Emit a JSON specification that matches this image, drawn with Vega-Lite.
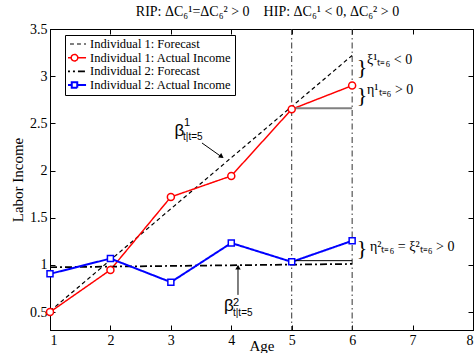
{
  "$schema": "https://vega.github.io/schema/vega-lite/v6.json",
  "width": 423,
  "height": 301,
  "autosize": {"type": "none"},
  "padding": {"left": 50, "top": 29, "right": 1, "bottom": 23},
  "background": "white",
  "title": {"text": "RIP: ΔC₆¹=ΔC₆² > 0\u00a0\u00a0\u00a0\u00a0HIP: ΔC₆¹ < 0, ΔC₆² > 0", "font": "Liberation Serif", "fontSize": 14, "fontWeight": "normal", "color": "black", "offset": 3, "dx": 6},
  "config": {
    "view": {"stroke": "black", "strokeWidth": 1},
    "axis": {"domainColor": "black", "tickColor": "black", "labelColor": "black", "titleColor": "black", "labelFont": "Liberation Serif", "titleFont": "Liberation Serif", "labelFontSize": 14, "titleFontSize": 15, "titleFontWeight": "normal", "grid": false, "tickSize": -5, "labelPadding": 8},
    "legend": {"orient": "none", "legendX": 15, "legendY": 6, "strokeColor": "black", "fillColor": "white", "padding": 3, "labelFont": "Liberation Serif", "labelFontSize": 12.5, "labelColor": "black", "symbolSize": 121, "labelOffset": 9}
  },
  "datasets": {
    "lines": [
      {"s": "Individual 1: Forecast", "x": 1, "y": 0.51},
      {"s": "Individual 1: Forecast", "x": 6, "y": 3.22},
      {"s": "Individual 1: Actual Income", "x": 1, "y": 0.5},
      {"s": "Individual 1: Actual Income", "x": 2, "y": 0.947},
      {"s": "Individual 1: Actual Income", "x": 3, "y": 1.72},
      {"s": "Individual 1: Actual Income", "x": 4, "y": 1.943},
      {"s": "Individual 1: Actual Income", "x": 5, "y": 2.65},
      {"s": "Individual 1: Actual Income", "x": 6, "y": 2.9},
      {"s": "Individual 2: Forecast", "x": 1, "y": 0.975},
      {"s": "Individual 2: Forecast", "x": 6, "y": 1.01},
      {"s": "Individual 2: Actual Income", "x": 1, "y": 0.905},
      {"s": "Individual 2: Actual Income", "x": 2, "y": 1.067},
      {"s": "Individual 2: Actual Income", "x": 3, "y": 0.817},
      {"s": "Individual 2: Actual Income", "x": 4, "y": 1.232},
      {"s": "Individual 2: Actual Income", "x": 5, "y": 1.032},
      {"s": "Individual 2: Actual Income", "x": 6, "y": 1.255}
    ]
  },
  "layer": [
    {
      "data": {"name": "lines"},
      "mark": {"type": "point", "opacity": 0},
      "encoding": {
        "x": {"field": "x", "type": "quantitative", "scale": {"domain": [1, 8], "nice": false, "zero": false}, "axis": {"orient": "bottom", "values": [1, 2, 3, 4, 5, 6, 7, 8], "title": "Age", "titlePadding": -9}},
        "y": {"field": "y", "type": "quantitative", "scale": {"domain": [0.31, 3.5], "nice": false, "zero": false}, "axis": {"orient": "left", "values": [0.5, 1, 1.5, 2, 2.5, 3, 3.5], "format": "~g", "title": "Labor Income", "titlePadding": 4}}
      }
    },
    {
      "data": {"name": "lines"},
      "mark": {"type": "point", "opacity": 0},
      "encoding": {
        "x": {"field": "x", "type": "quantitative", "scale": {"domain": [1, 8], "nice": false, "zero": false}, "axis": {"orient": "top", "values": [1, 2, 3, 4, 5, 6, 7, 8], "labels": false, "title": null}},
        "y": {"field": "y", "type": "quantitative", "scale": {"domain": [0.31, 3.5], "nice": false, "zero": false}, "axis": {"orient": "right", "values": [0.5, 1, 1.5, 2, 2.5, 3, 3.5], "labels": false, "title": null}}
      }
    },
    {
      "data": {"values": [{"x": 5}, {"x": 6}]},
      "mark": {"type": "rule", "color": "#333333", "strokeWidth": 1, "strokeDash": [6, 3, 1.5, 3]},
      "encoding": {
        "x": {"field": "x", "type": "quantitative", "scale": {"domain": [1, 8], "nice": false, "zero": false}, "axis": null}
      }
    },
    {
      "data": {"name": "lines"},
      "mark": {"type": "line"},
      "encoding": {
        "x": {"field": "x", "type": "quantitative", "scale": {"domain": [1, 8], "nice": false, "zero": false}, "axis": null},
        "y": {"field": "y", "type": "quantitative", "scale": {"domain": [0.31, 3.5], "nice": false, "zero": false}, "axis": null},
        "color": {
          "field": "s", "type": "nominal",
          "scale": {"domain": ["Individual 1: Forecast", "Individual 1: Actual Income", "Individual 2: Forecast", "Individual 2: Actual Income"], "range": ["black", "red", "black", "blue"]},
          "legend": {
            "title": null,
            "rowPadding": 0.7,
            "clipHeight": 12,
            "labelExpr": "datum.label + '\u00a0\u00a0\u00a0\u00a0\u00a0'",
            "encode": {"symbols": {"update": {
              "shape": {"signal": "datum.value === 'Individual 1: Actual Income' ? 'M-2.1,0H-0.6M0.6,0H2.1M-0.6,0A0.6,0.6 0 1,1 0.6,0A0.6,0.6 0 1,1 -0.6,0' : datum.value === 'Individual 2: Actual Income' ? 'M-2.1,0H-0.5M0.5,0H2.1M-0.5,-0.5H0.5V0.5H-0.5Z' : 'M-2.1,0H2.1'"},
              "strokeWidth": {"signal": "indexof(datum.value, 'Actual') >= 0 ? 2 : 1.2"}
            }}}
          }
        },
        "strokeDash": {
          "field": "s", "type": "nominal",
          "scale": {"domain": ["Individual 1: Forecast", "Individual 1: Actual Income", "Individual 2: Forecast", "Individual 2: Actual Income"], "range": [[4, 3], [1, 0], [7, 3, 2, 3], [1, 0]]},
          "legend": {"title": null, "rowPadding": 0.7, "clipHeight": 12}
        },
        "strokeWidth": {
          "field": "s", "type": "nominal",
          "scale": {"domain": ["Individual 1: Forecast", "Individual 1: Actual Income", "Individual 2: Forecast", "Individual 2: Actual Income"], "range": [1.2, 2, 1.2, 2]},
          "legend": null
        }
      }
    },
    {
      "data": {"values": [{"x": 5, "x2": 6, "y": 2.66}]},
      "mark": {"type": "rule", "color": "#808080", "strokeWidth": 2},
      "encoding": {
        "x": {"field": "x", "type": "quantitative", "scale": {"domain": [1, 8], "nice": false, "zero": false}, "axis": null},
        "x2": {"field": "x2"},
        "y": {"field": "y", "type": "quantitative", "scale": {"domain": [0.31, 3.5], "nice": false, "zero": false}, "axis": null}
      }
    },
    {
      "data": {"values": [{"x": 5, "x2": 6, "y": 1.045}]},
      "mark": {"type": "rule", "color": "black", "strokeWidth": 1},
      "encoding": {
        "x": {"field": "x", "type": "quantitative", "scale": {"domain": [1, 8], "nice": false, "zero": false}, "axis": null},
        "x2": {"field": "x2"},
        "y": {"field": "y", "type": "quantitative", "scale": {"domain": [0.31, 3.5], "nice": false, "zero": false}, "axis": null}
      }
    },
    {
      "data": {"name": "lines"},
      "transform": [{"filter": "datum.s === 'Individual 1: Actual Income'"}],
      "mark": {"type": "point", "shape": "circle", "size": 49, "filled": true, "fill": "white", "stroke": "red", "strokeWidth": 1.5, "opacity": 1},
      "encoding": {
        "x": {"field": "x", "type": "quantitative", "scale": {"domain": [1, 8], "nice": false, "zero": false}, "axis": null},
        "y": {"field": "y", "type": "quantitative", "scale": {"domain": [0.31, 3.5], "nice": false, "zero": false}, "axis": null}
      }
    },
    {
      "data": {"name": "lines"},
      "transform": [{"filter": "datum.s === 'Individual 2: Actual Income'"}],
      "mark": {"type": "point", "shape": "square", "size": 36, "filled": true, "fill": "white", "stroke": "blue", "strokeWidth": 1.5, "opacity": 1},
      "encoding": {
        "x": {"field": "x", "type": "quantitative", "scale": {"domain": [1, 8], "nice": false, "zero": false}, "axis": null},
        "y": {"field": "y", "type": "quantitative", "scale": {"domain": [0.31, 3.5], "nice": false, "zero": false}, "axis": null}
      }
    },
    {
      "data": {"values": [{"x": 3.515, "y": 2.292, "x2": 3.85, "y2": 2.14}, {"x": 4.111, "y": 0.682, "x2": 4.111, "y2": 0.99}]},
      "mark": {"type": "rule", "color": "black", "strokeWidth": 1},
      "encoding": {
        "x": {"field": "x", "type": "quantitative", "scale": {"domain": [1, 8], "nice": false, "zero": false}, "axis": null},
        "y": {"field": "y", "type": "quantitative", "scale": {"domain": [0.31, 3.5], "nice": false, "zero": false}, "axis": null},
        "x2": {"field": "x2"},
        "y2": {"field": "y2"}
      }
    },
    {
      "data": {"values": [{"x": 3.84, "y": 2.147}]},
      "mark": {"type": "point", "shape": "triangle-up", "size": 30, "filled": true, "color": "black", "opacity": 1, "angle": 124.7},
      "encoding": {
        "x": {"field": "x", "type": "quantitative", "scale": {"domain": [1, 8], "nice": false, "zero": false}, "axis": null},
        "y": {"field": "y", "type": "quantitative", "scale": {"domain": [0.31, 3.5], "nice": false, "zero": false}, "axis": null}
      }
    },
    {
      "data": {"values": [{"x": 4.111, "y": 0.975}]},
      "mark": {"type": "point", "shape": "triangle-up", "size": 30, "filled": true, "color": "black", "opacity": 1},
      "encoding": {
        "x": {"field": "x", "type": "quantitative", "scale": {"domain": [1, 8], "nice": false, "zero": false}, "axis": null},
        "y": {"field": "y", "type": "quantitative", "scale": {"domain": [0.31, 3.5], "nice": false, "zero": false}, "axis": null}
      }
    },
    {
      "data": {"values": [{"x": 6.163, "y": 3.092}, {"x": 6.163, "y": 2.796}, {"x": 6.163, "y": 1.18}]},
      "mark": {"type": "text", "text": "}", "font": "Liberation Serif", "fontSize": 22, "align": "center", "baseline": "middle", "color": "black"},
      "encoding": {
        "x": {"field": "x", "type": "quantitative", "scale": {"domain": [1, 8], "nice": false, "zero": false}, "axis": null},
        "y": {"field": "y", "type": "quantitative", "scale": {"domain": [0.31, 3.5], "nice": false, "zero": false}, "axis": null}
      }
    },
    {
      "data": {"values": [{"x": 6.246, "y": 3.17, "t": "ξ¹ₜ₌₆ < 0"}, {"x": 6.246, "y": 2.854, "t": "η¹ₜ₌₆ > 0"}, {"x": 6.295, "y": 1.19, "t": "η²ₜ₌₆ = ξ²ₜ₌₆ > 0"}]},
      "mark": {"type": "text", "font": "Liberation Serif", "fontSize": 14, "align": "left", "baseline": "middle", "color": "black"},
      "encoding": {
        "x": {"field": "x", "type": "quantitative", "scale": {"domain": [1, 8], "nice": false, "zero": false}, "axis": null},
        "y": {"field": "y", "type": "quantitative", "scale": {"domain": [0.31, 3.5], "nice": false, "zero": false}, "axis": null},
        "text": {"field": "t"}
      }
    },
    {
      "data": {"values": [{"x": 3.143, "y": 2.42, "t": "β"}, {"x": 3.962, "y": 0.566, "t": "β"}]},
      "mark": {"type": "text", "font": "Liberation Sans", "fontSize": 17, "align": "center", "baseline": "middle", "color": "black"},
      "encoding": {
        "x": {"field": "x", "type": "quantitative", "scale": {"domain": [1, 8], "nice": false, "zero": false}, "axis": null},
        "y": {"field": "y", "type": "quantitative", "scale": {"domain": [0.31, 3.5], "nice": false, "zero": false}, "axis": null},
        "text": {"field": "t"}
      }
    },
    {
      "data": {"values": [{"x": 3.217, "y": 2.499, "t": "1"}, {"x": 4.028, "y": 0.597, "t": "2"}]},
      "mark": {"type": "text", "font": "Liberation Sans", "fontSize": 11, "align": "left", "baseline": "middle", "color": "black"},
      "encoding": {
        "x": {"field": "x", "type": "quantitative", "scale": {"domain": [1, 8], "nice": false, "zero": false}, "axis": null},
        "y": {"field": "y", "type": "quantitative", "scale": {"domain": [0.31, 3.5], "nice": false, "zero": false}, "axis": null},
        "text": {"field": "t"}
      }
    },
    {
      "data": {"values": [{"x": 3.201, "y": 2.356, "t": "t|t=5"}, {"x": 4.028, "y": 0.486, "t": "t|t=5"}]},
      "mark": {"type": "text", "font": "Liberation Sans", "fontSize": 10, "align": "left", "baseline": "middle", "color": "black"},
      "encoding": {
        "x": {"field": "x", "type": "quantitative", "scale": {"domain": [1, 8], "nice": false, "zero": false}, "axis": null},
        "y": {"field": "y", "type": "quantitative", "scale": {"domain": [0.31, 3.5], "nice": false, "zero": false}, "axis": null},
        "text": {"field": "t"}
      }
    }
  ],
  "resolve": {"axis": {"x": "independent", "y": "independent"}}
}
